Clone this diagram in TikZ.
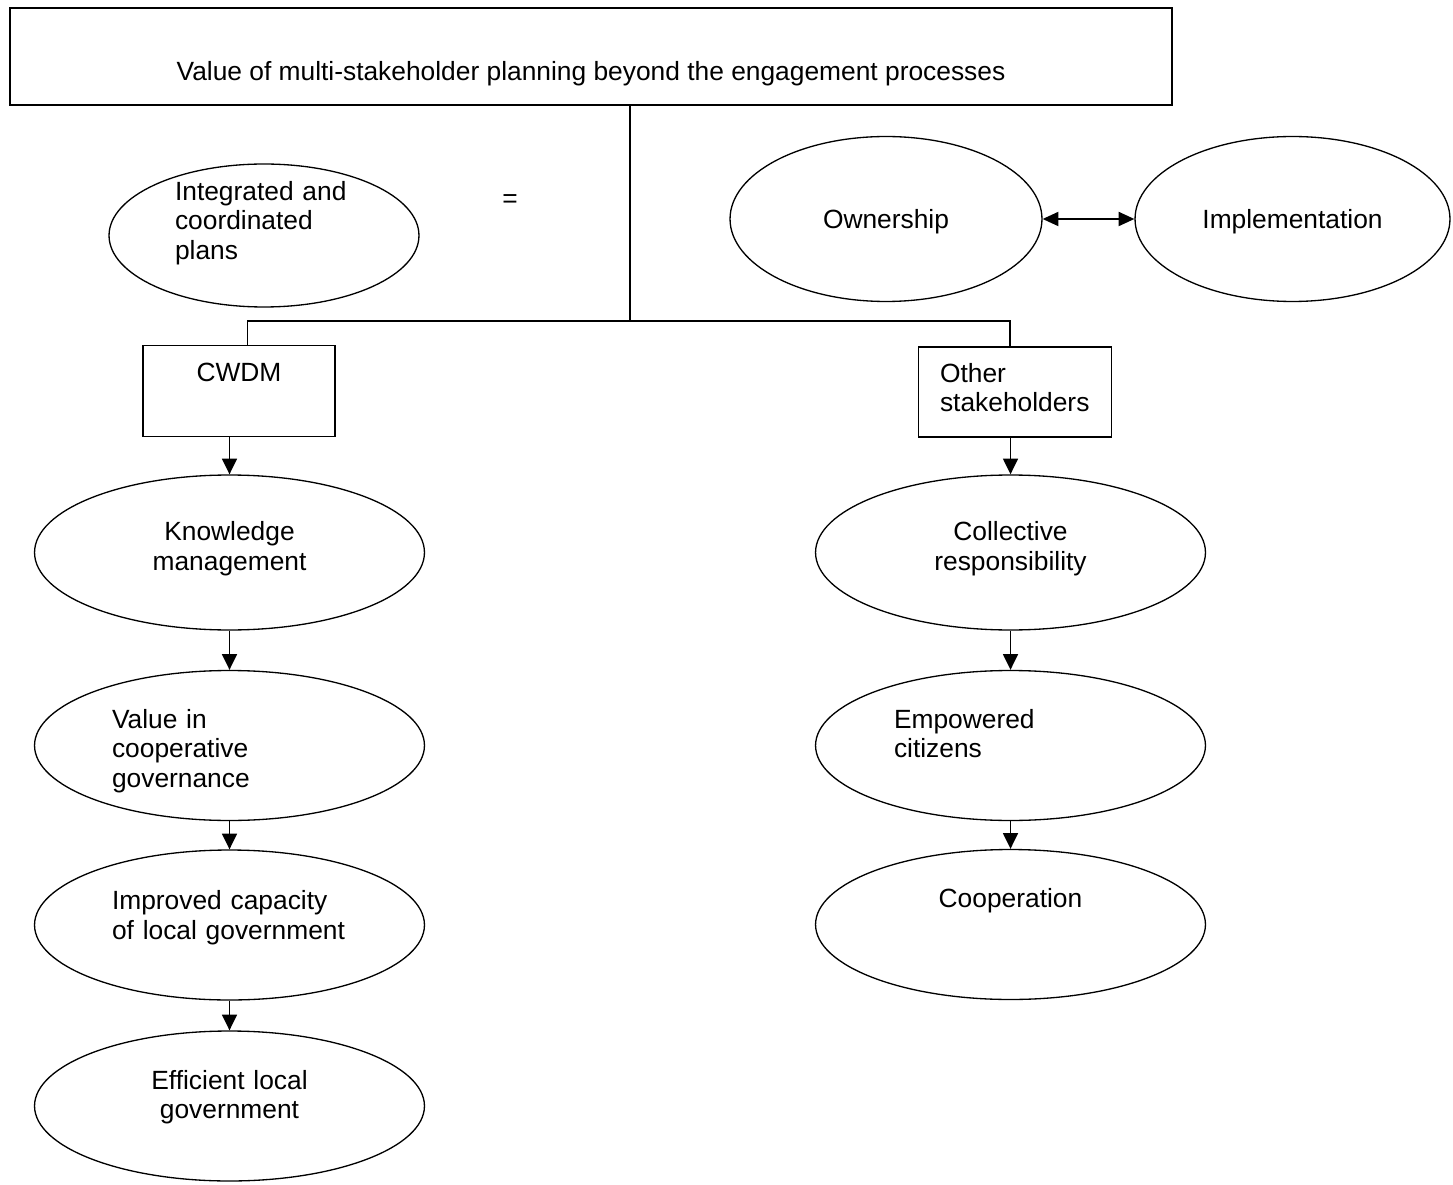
\documentclass[tikz,border=0pt]{standalone}
\usepackage{fontspec}
\setmainfont{Liberation Sans}
\usetikzlibrary{shapes.geometric,arrows.meta}

\begin{document}
\begin{tikzpicture}[
    x=0.02cm, y=-0.02cm,
    line width=0.75pt,
    every node/.style={font={\fontsize{15}{17}\selectfont}, inner sep=0pt},
    box/.style={draw, rectangle},
    oval/.style={draw, ellipse, minimum width=7.8cm, minimum height=3cm, text height=0pt},
    arr/.style={-{Triangle[length=9pt,width=8.5pt]}, line width=1.1pt},
    biarr/.style={{Triangle[length=9pt,width=8pt]}-{Triangle[length=9pt,width=8pt]}, line width=1.1pt}
]
\useasboundingbox (0,0) rectangle (1453,1185);

\def\cl{229.5}
\def\cr{1010.5}

% title box
\node[box, minimum width=23.24cm, minimum height=1.94cm, text height=0.98cm, text depth=0pt] (title) at (591,56.5)
    {Value of multi-stakeholder planning beyond the engagement processes};

% top row
\node[oval, minimum width=6.2cm, minimum height=2.86cm, text width=3.56cm, align=left, text depth=1.42cm] (integ) at (264,235.5)
    {Integrated and\\coordinated\\plans};
\node (eq) at (510,201) {=};
\node[oval, minimum width=6.24cm, minimum height=3.3cm, text height=0.4cm, text depth=0pt] (own) at (886,219) {Ownership};
\node[oval, minimum width=6.3cm, minimum height=3.3cm, text height=0.4cm, text depth=0pt] (impl) at (1292.5,219) {Implementation};

% the two groups
\node[box, minimum width=3.84cm, minimum height=1.81cm, text height=0pt, text depth=0.4cm] (cwdm) at (239,391) {CWDM};
\node[box, minimum width=3.85cm, minimum height=1.8cm, text width=3cm, align=left, text height=0pt, text depth=0.4cm] (other) at (1015,392)
    {Other\\stakeholders};

% CWDM column
\node[oval, minimum height=3.1cm, text width=5cm, align=center, text depth=0.48cm] (know) at (\cl,552.5) {Knowledge\\management};
\node[oval, text width=4.7cm, align=left, text depth=0.7cm] (val) at (\cl,745.5) {Value in\\cooperative\\governance};
\node[oval, text width=4.7cm, align=left, text depth=0.62cm] (impr) at (\cl,925) {Improved capacity\\of local government};
\node[oval, text width=5cm, align=center, text depth=0.68cm] (eff) at (\cl,1106) {Efficient local\\government};

% stakeholder column
\node[oval, minimum height=3.1cm, text width=5cm, align=center, text depth=0.48cm] (coll) at (\cr,552.5) {Collective\\responsibility};
\node[oval, text width=4.66cm, align=left, text depth=0.7cm] (emp) at (\cr,745.5) {Empowered\\citizens};
\node[oval, text width=5cm, align=center, text depth=0.67cm] (coop) at (\cr,924.5) {Cooperation};

% tree lines
\coordinate (hub) at (630,321);
\draw (title.south -| hub) -- (hub);
\draw (hub) -| ([xshift=0.17cm]cwdm.north);
\draw (hub) -| ([xshift=-0.1cm]other.north);

\draw[biarr] (own) -- (impl);

% arrows down
\draw[arr] (cwdm.south -| know.north) -- (know.north);
\draw[arr] (know) -- (val);
\draw[arr] (val) -- (impr);
\draw[arr] (impr) -- (eff);
\draw[arr] (other.south -| coll.north) -- (coll.north);
\draw[arr] (coll) -- (emp);
\draw[arr] (emp) -- (coop);

\end{tikzpicture}
\end{document}
